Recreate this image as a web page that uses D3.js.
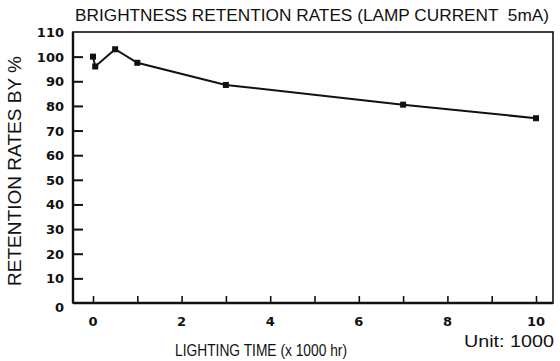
<!DOCTYPE html>
<html>
<head>
<meta charset="utf-8">
<script src="https://cdn.jsdelivr.net/npm/d3@7"></script>
<style>
  body { margin: 0; background: #fff; }
  svg { display: block; }
  text { font-family: "Liberation Sans", sans-serif; fill: #111; white-space: pre; }
  .tick-label { font-family: "DejaVu Sans", sans-serif; font-weight: bold; }
</style>
</head>
<body>
<div id="chart"><svg></svg></div>
<script>
// data
const hours = [0, 0.05, 0.5, 1, 3, 7, 10];          // x 1000 hr
const retention = [100, 96, 103, 97.5, 88.5, 80.5, 75]; // %
const xTickLabels = [0, 2, 4, 6, 8, 10];
const xMinorTicks = d3.range(0, 11);
const yTicks = d3.range(0, 111, 10);

const W = 560, H = 361;
const svg = d3.select("#chart svg").attr("width", W).attr("height", H);

const plot = { left: 73, right: 553, top: 32, bottom: 303 };

const x = d3.scaleLinear().domain([0, 10]).range([93, 536]);
const y = d3.scaleLinear().domain([0, 110]).range([plot.bottom, plot.top]);

// frame
svg.append("rect")
    .attr("x", plot.left).attr("y", plot.top)
    .attr("width", plot.right - plot.left).attr("height", plot.bottom - plot.top)
    .attr("fill", "none").attr("stroke", "#111").attr("stroke-width", 1.6);
svg.append("line")
    .attr("x1", plot.left).attr("x2", plot.right)
    .attr("y1", plot.bottom).attr("y2", plot.bottom)
    .attr("stroke", "#111").attr("stroke-width", 2.4);
svg.append("line")
    .attr("x1", plot.left).attr("x2", plot.left)
    .attr("y1", plot.top).attr("y2", plot.bottom)
    .attr("stroke", "#111").attr("stroke-width", 2.4);

// y axis: inward ticks, labels on the left
const yAxis = svg.append("g").attr("transform", `translate(${plot.left},0)`)
    .call(d3.axisRight(y).tickValues(yTicks).tickSize(10).tickFormat(""));
yAxis.select(".domain").remove();
yAxis.selectAll(".tick line").attr("stroke", "#111").attr("stroke-width", 2);
yAxis.selectAll(".tick").filter(d => d === 0 || d === 110).select("line").remove();

svg.append("g").selectAll("text")
    .data(yTicks)
    .join("text")
    .attr("class", "tick-label")
    .attr("x", 64)
    .attr("y", d => y(d) + (d === 0 ? 9 : 5))
    .attr("text-anchor", "end")
    .attr("font-size", 13)
    .text(d => d);

// x axis: small ticks upward at every 1000 hr
const xAxis = svg.append("g").attr("transform", `translate(0,${plot.bottom})`)
    .call(d3.axisTop(x).tickValues(xMinorTicks).tickSize(7).tickFormat(""));
xAxis.select(".domain").remove();
xAxis.selectAll(".tick line").attr("stroke", "#111").attr("stroke-width", 1.6);

svg.append("g").selectAll("text")
    .data(xTickLabels)
    .join("text")
    .attr("class", "tick-label")
    .attr("x", d => x(d))
    .attr("y", plot.bottom + 23)
    .attr("text-anchor", "middle")
    .attr("font-size", 13)
    .text(d => d);

// series
const line = d3.line().x(d => x(d[0])).y(d => y(d[1]));
const pts = hours.map((h, i) => [h, retention[i]]);

svg.append("path")
    .datum(pts)
    .attr("d", line)
    .attr("fill", "none")
    .attr("stroke", "#111")
    .attr("stroke-width", 2);

svg.append("g").selectAll("rect")
    .data(pts)
    .join("rect")
    .attr("x", d => x(d[0]) - 3)
    .attr("y", d => y(d[1]) - 3)
    .attr("width", 6).attr("height", 6)
    .attr("fill", "#111");

// titles
svg.append("text")
    .attr("x", 75).attr("y", 21)
    .attr("font-size", 17)
    .attr("textLength", 474).attr("lengthAdjust", "spacingAndGlyphs")
    .text("BRIGHTNESS RETENTION RATES (LAMP CURRENT  5mA)");

svg.append("text")
    .attr("transform", "translate(21,286) rotate(-90)")
    .attr("font-size", 18)
    .attr("textLength", 230).attr("lengthAdjust", "spacingAndGlyphs")
    .text("RETENTION RATES BY %");

svg.append("text")
    .attr("x", 175).attr("y", 356)
    .attr("font-size", 17)
    .attr("textLength", 172).attr("lengthAdjust", "spacingAndGlyphs")
    .text("LIGHTING TIME (x 1000 hr)");

svg.append("text")
    .attr("x", 464).attr("y", 347)
    .attr("font-size", 17)
    .attr("textLength", 90).attr("lengthAdjust", "spacingAndGlyphs")
    .text("Unit: 1000");
</script>
</body>
</html>
